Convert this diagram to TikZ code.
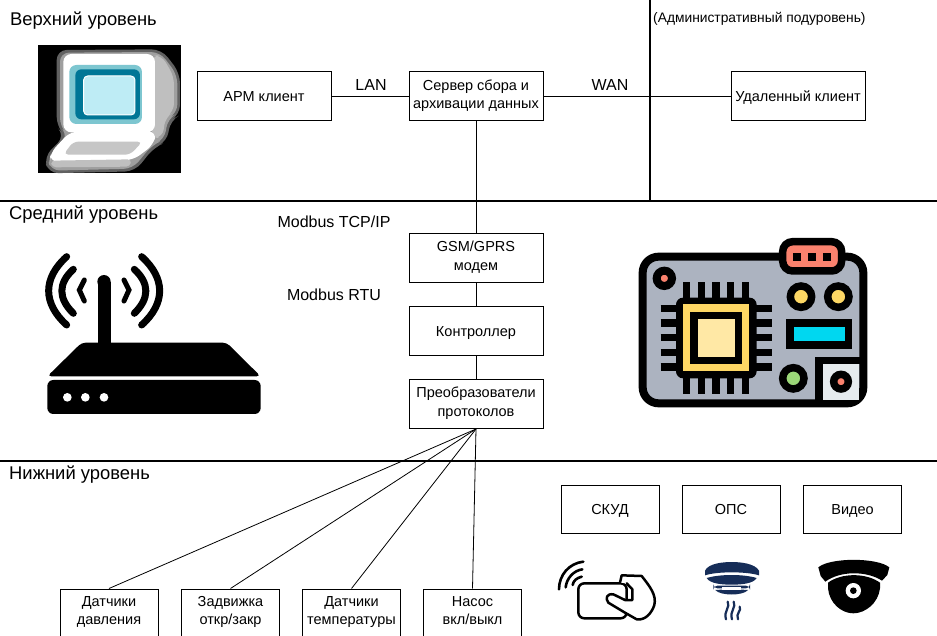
\documentclass[tikz,border=0pt]{standalone}
\usepackage{fontspec}
\setmainfont{Liberation Sans}
\usetikzlibrary{positioning,calc}
\definecolor{navyC}{RGB}{22,45,88}
\definecolor{boardC}{RGB}{172,179,192}
\definecolor{pinkC}{RGB}{250,130,110}
\definecolor{goldC}{RGB}{253,215,100}
\definecolor{creamC}{RGB}{255,232,165}
\definecolor{cyanC}{RGB}{0,215,240}
\definecolor{leafC}{RGB}{155,215,120}
\definecolor{paleC}{RGB}{230,235,238}
\definecolor{scrA}{RGB}{125,198,208}
\definecolor{scrB}{RGB}{0,118,150}
\definecolor{scrC}{RGB}{190,236,245}
\tikzset{
    line/.style   = {draw=black, line width=0.8pt},
    block/.style  = {draw=black, line width=1pt, fill=white,
            minimum width=134pt, minimum height=49pt, inner sep=1pt,
            align=center, font=\fontsize{14.5}{18.5}\selectfont,
            execute at begin node={\rule{0pt}{15pt}},
            execute at end node={\rule[-5pt]{0pt}{5pt}}},
    smallblock/.style = {block, minimum width=98pt, minimum height=48pt},
    levelLabel/.style = {anchor=west, inner sep=0pt, font=\fontsize{18.4}{22}\selectfont},
    busLabel/.style   = {inner sep=0pt, font=\fontsize{16}{19}\selectfont},
    divider/.style    = {draw=black, line width=2pt},
}
\newcommand{\PlaceMonitor}[2]{% x0,y0
    \begin{scope}[shift={(#1,#2)},scale=1/3]
        \fill[black] (55,45) rectangle (483,430);
        % halo
        \fill[black!62,rounded corners=10pt] (110,60) -- (425,58) -- (480,130) -- (480,255) -- (450,272)
            -- (442,335) -- (402,352) -- (345,424) -- (85,430) -- (72,380) -- (135,318) -- (110,290) -- cycle;
        \fill[gray!75,rounded corners=9pt] (120,68) -- (420,66) -- (472,135) -- (472,250) -- (443,266)
            -- (434,328) -- (396,346) -- (338,416) -- (92,422) -- (82,382) -- (145,318) -- (120,290) -- cycle;
        % side of the case
        \fill[gray!50,rounded corners=8pt] (395,76) -- (425,76) -- (462,140) -- (462,245) -- (436,262)
            -- (428,322) -- (395,325) -- cycle;
        % keyboard
        \fill[white,rounded corners=8pt] (150,305) -- (410,305) -- (400,345) -- (340,390) -- (90,396) -- (90,370) -- cycle;
        \fill[gray!50,rounded corners=4pt] (92,392) -- (335,388) -- (330,410) -- (96,412) -- cycle;
        \fill[gray!45,rounded corners=5pt] (160,335) -- (368,335) -- (330,374) -- (130,374) -- cycle;
        % case
        \fill[white,rounded corners=8pt] (130,72) rectangle (405,307);
        % screen
        \fill[scrA,rounded corners=7pt] (148,105) rectangle (366,282);
        \fill[scrB,rounded corners=6pt] (166,118) rectangle (360,268);
        \fill[scrC,draw=white,line width=1pt,rounded corners=4pt] (191,138) rectangle (345,255);
    \end{scope}
}
\newcommand{\PlaceRouter}[2]{% x0,y0
    \begin{scope}[shift={(#1,#2)},scale=1/3,line cap=round,draw=black]
        \draw[line width=13pt,line cap=butt] (222,320) -- (222,125);
        \fill[black] (222,125) circle (20);
        \draw[line width=7pt] (110,50) .. controls (38,115) and (38,190) .. (110,255);
        \draw[line width=7pt] (130,88) .. controls (84,130) and (84,175) .. (130,220);
        \draw[line width=5pt] (163,120) -- (148,150) -- (163,183);
        \draw[line width=7pt] (335,50) .. controls (407,115) and (407,190) .. (335,255);
        \draw[line width=7pt] (313,88) .. controls (359,130) and (359,175) .. (313,220);
        \draw[line width=5pt] (282,120) -- (297,150) -- (282,183);
        \fill[black,rounded corners=4pt] (155,308) -- (590,308) -- (692,409) -- (52,409) -- cycle;
        \fill[black,rounded corners=6pt] (52,420) -- (692,420) -- (692,522) -- (52,522) -- cycle;
        \foreach \dotx in {112,166,222}
            \fill[white] (\dotx,472) circle (13);
    \end{scope}
}
\newcommand{\PlaceBoard}[2]{% x0,y0
    \begin{scope}[shift={(#1,#2)},scale=1/3,draw=black]
        \draw[fill=boardC,line width=8pt,rounded corners=16pt] (38,65) rectangle (700,505);
        % corner socket
        \fill[paleC] (567,376) rectangle (688,495);
        \draw[line width=7.5pt] (567,505) -- (567,376) -- (696,376);
        % header
        \draw[fill=pinkC,line width=7.5pt,rounded corners=10pt] (458,20) rectangle (635,108);
        \foreach \pinx in {502,546,590}
            \fill[black] (\pinx-12,53) rectangle (\pinx+12,77);
        % round parts
        \draw[fill=pinkC,line width=8pt] (103,130) circle (23);
        \draw[fill=goldC,line width=7.5pt] (513,185) circle (32);
        \draw[fill=goldC,line width=7.5pt] (625,185) circle (32);
        \draw[fill=leafC,line width=7.5pt] (490,430) circle (32);
        \draw[fill=pinkC,line width=7.5pt] (633,440) circle (22);
        \draw[fill=cyanC,line width=7.5pt] (480,264) rectangle (656,330);
        % chip pins
        \foreach \pinx in {170,214,258,302,346}
            \draw[line width=7.5pt] (\pinx,142) -- (\pinx,476);
        \foreach \piny in {220,264,308,352,396}
            \draw[line width=7.5pt] (92,\piny) -- (425,\piny);
        % chip
        \fill[black,rounded corners=7pt] (138,188) rectangle (380,430);
        \fill[goldC] (158,208) rectangle (358,408);
        \fill[black] (180,230) rectangle (336,386);
        \fill[creamC] (203,253) rectangle (314,365);
    \end{scope}
}
\newcommand{\PlaceCard}[2]{% x0,y0
    \begin{scope}[shift={(#1,#2)},scale=1/3,line width=2.5pt,line cap=round,line join=round]
        \draw[rounded corners=6pt] (100,100) rectangle (245,205);
        \draw[fill=white] (225,98) -- (230,76) -- (290,78) .. controls (315,110) and (335,135) .. (328,165)
            .. controls (320,190) and (300,212) .. (275,208) -- (240,188) -- (190,158)
            .. controls (180,145) and (185,130) .. (205,133) -- (240,150) -- (262,150) -- (262,118) -- (245,100);
        \draw[line width=2.6pt] (42,118) .. controls (42,75) and (72,40) .. (115,35);
        \draw[line width=2.6pt] (62,112) .. controls (65,85) and (85,62) .. (112,58);
        \draw[line width=2.6pt] (83,105) .. controls (85,92) and (95,84) .. (110,80);
    \end{scope}
}
\newcommand{\PlaceDetector}[2]{% x0,y0
    \begin{scope}[shift={(#1,#2)},scale=1/3,navyC]
        \fill (45,76) -- (45,62) .. controls (55,40) and (100,36) .. (125,36) .. controls (150,36) and (195,40) .. (207,62)
            -- (207,76) .. controls (170,64) and (80,64) .. (45,76) -- cycle;
        \fill (50,84) .. controls (90,72) and (160,72) .. (200,84) .. controls (190,102) and (150,104) .. (125,104)
            .. controls (100,104) and (60,102) .. (50,84) -- cycle;
        \fill[rounded corners=4pt] (70,107) rectangle (180,115);
        \fill (76,120) .. controls (100,118) and (150,118) .. (174,120) .. controls (160,138) and (90,138) .. (76,120) -- cycle;
        \fill[white] (97,111) rectangle (153,119);
        \draw[line width=2.2pt,line cap=round] (113,155) .. controls (122,172) and (100,182) .. (108,208);
        \draw[line width=2.2pt,line cap=round] (131,155) .. controls (140,172) and (118,182) .. (126,208);
        \draw[line width=2.2pt,line cap=round] (149,170) .. controls (156,182) and (136,190) .. (144,208);
    \end{scope}
}
\newcommand{\PlaceCamera}[2]{% x0,y0
    \begin{scope}[shift={(#1,#2)},scale=1/3]
        \fill[black] (55,52) .. controls (90,22) and (232,22) .. (268,52) -- (262,75) -- (246,92)
            .. controls (200,62) and (120,62) .. (76,95) -- (62,78) -- cycle;
        \fill[black] (84,98) .. controls (125,68) and (198,68) .. (240,98) -- (240,115)
            .. controls (235,160) and (195,190) .. (160,190) .. controls (125,190) and (88,160) .. (84,115) -- cycle;
        \fill[white] (160,122) circle (23);
        \fill[black] (160,122) circle (10);
    \end{scope}
}
\begin{document}
\begin{tikzpicture}[x=1pt,y=-1pt]
    \useasboundingbox (0,0) rectangle (937,636);
    \clip (0,0) rectangle (937,636);

    % levels
    \draw[divider] (0,201) -- (937,201);
    \draw[divider] (0,461) -- (937,461);
    \draw[divider,line width=2.5pt] (650,0) -- (650,201);
    \node[levelLabel] (upper) at (10,21) {Верхний уровень};
    \node[levelLabel] (middle) at (9,214.5) {Средний уровень};
    \node[levelLabel] (lower) at (9,474.5) {Нижний уровень};
    \node[inner sep=0pt,anchor=west,font=\fontsize{13.8}{16}\selectfont] (admin) at (653,19) {(Административный подуровень)};

    % top row
    \node[block] (arm) at (264,96.5) {АРМ клиент};
    \node[block] (server) at (476,96.5) {Сервер сбора и\\архивации данных};
    \node[block] (remote) at (798,96.5) {Удаленный клиент};

    % middle column
    \node[block] (modem) at (476,258) {GSM/GPRS\\модем};
    \node[block] (plc) at (476,331) {Контроллер};
    \node[block] (conv) at (476,404) {Преобразователи\\протоколов};

    % field devices
    \node[smallblock] (press) at (109,613) {Датчики\\давления};
    \node[smallblock] (valve) at (230.5,613) {Задвижка\\откр/закр};
    \node[smallblock] (temp) at (351.5,613) {Датчики\\температуры};
    \node[smallblock] (pump) at (472.5,613) {Насос\\вкл/выкл};

    % systems
    \node[smallblock] (skud) at (610,509) {СКУД};
    \node[smallblock] (ops) at (731,509) {ОПС};
    \node[smallblock] (video) at (852.5,509) {Видео};

    % links
    \draw[line] (arm) -- (server);
    \draw[line] (server) -- (remote);
    \draw[line] (server) -- (modem);
    \draw[line] (modem) -- (plc);
    \draw[line] (plc) -- (conv);
    \foreach \target in {press,valve,temp,pump}
        \draw[line] (conv.south) -- (\target.north);

    \node[busLabel] (lan) at (371,85) {LAN};
    \node[busLabel] (wan) at (610,85) {WAN};
    \node[busLabel] (tcp) at (334,222) {Modbus TCP/IP};
    \node[busLabel] (rtu) at (334,295) {Modbus RTU};

    % icons
    \PlaceMonitor{20}{30}
    \PlaceRouter{30}{240}
    \PlaceBoard{630}{235}
    \PlaceCard{545}{550}
    \PlaceDetector{690}{550}
    \PlaceCamera{800}{550}
\end{tikzpicture}
\end{document}
